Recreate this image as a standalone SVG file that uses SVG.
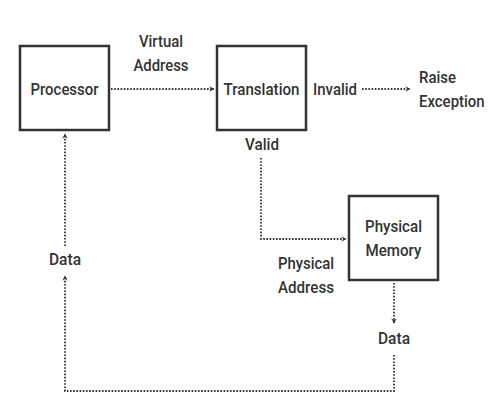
<svg xmlns="http://www.w3.org/2000/svg" width="492" height="404" viewBox="0 0 492 404">
<style>
.box{fill:#fff;stroke:#333;stroke-width:2.5}
.t{font-family:Roboto,"Liberation Sans",Arial,sans-serif;font-size:17px;font-weight:500;fill:#333;text-anchor:middle}
.tl{font-family:Roboto,"Liberation Sans",Arial,sans-serif;font-size:17px;font-weight:500;fill:#333;text-anchor:start}
.c{fill:none;stroke:#333;stroke-width:1.8;stroke-dasharray:1.6 1.6}
</style>
<defs>
<marker id="ah" viewBox="0 0 10 10" refX="8" refY="5" markerWidth="7" markerHeight="7" orient="auto" markerUnits="userSpaceOnUse">
<path d="M1,1 L9,5 L1,9 L4,5 Z" fill="#333"/>
</marker>
</defs>
<rect width="492" height="404" fill="#fff"/>
<g id="connectors">
<path class="c" d="M111,89 H214" marker-end="url(#ah)"/>
<path class="c" d="M362,89 H410" marker-end="url(#ah)"/>
<path class="c" d="M261,158 V239 H346" marker-end="url(#ah)"/>
<path class="c" d="M394,283 V323" marker-end="url(#ah)"/>
<path class="c" d="M394,355 V391 H65 V276" marker-end="url(#ah)"/>
<path class="c" d="M65,246 V134" marker-end="url(#ah)"/>
</g>
<g id="processor">
<rect class="box" x="20" y="46" width="89" height="84"/>
<text class="t" x="64.5" y="95" textLength="68" lengthAdjust="spacingAndGlyphs">Processor</text>
</g>
<g id="translation">
<rect class="box" x="217" y="46" width="89" height="84"/>
<text class="t" x="261.5" y="95" textLength="76" lengthAdjust="spacingAndGlyphs">Translation</text>
</g>
<g id="physical-memory">
<rect class="box" x="349" y="196" width="89" height="84"/>
<text class="t" x="393.5" y="232" textLength="57" lengthAdjust="spacingAndGlyphs">Physical</text>
<text class="t" x="393.5" y="256" textLength="56" lengthAdjust="spacingAndGlyphs">Memory</text>
</g>
<g id="raise-exception">
<text class="tl" x="419" y="83" textLength="37" lengthAdjust="spacingAndGlyphs">Raise</text>
<text class="tl" transform="translate(419 107) scale(0.88 1)" x="0" y="0">Exception</text>
</g>
<g id="labels">
<text class="t" x="161" y="47" textLength="44" lengthAdjust="spacingAndGlyphs">Virtual</text>
<text class="t" x="161" y="71" textLength="55" lengthAdjust="spacingAndGlyphs">Address</text>
<text class="tl" x="313" y="95" textLength="44" lengthAdjust="spacingAndGlyphs">Invalid</text>
<text class="t" x="262" y="150" textLength="34" lengthAdjust="spacingAndGlyphs">Valid</text>
<text class="t" x="306" y="269" textLength="56" lengthAdjust="spacingAndGlyphs">Physical</text>
<text class="t" x="306" y="293" textLength="56" lengthAdjust="spacingAndGlyphs">Address</text>
<text class="t" x="394" y="344" textLength="32" lengthAdjust="spacingAndGlyphs">Data</text>
<text class="t" x="65" y="265" textLength="32" lengthAdjust="spacingAndGlyphs">Data</text>
</g>
</svg>
